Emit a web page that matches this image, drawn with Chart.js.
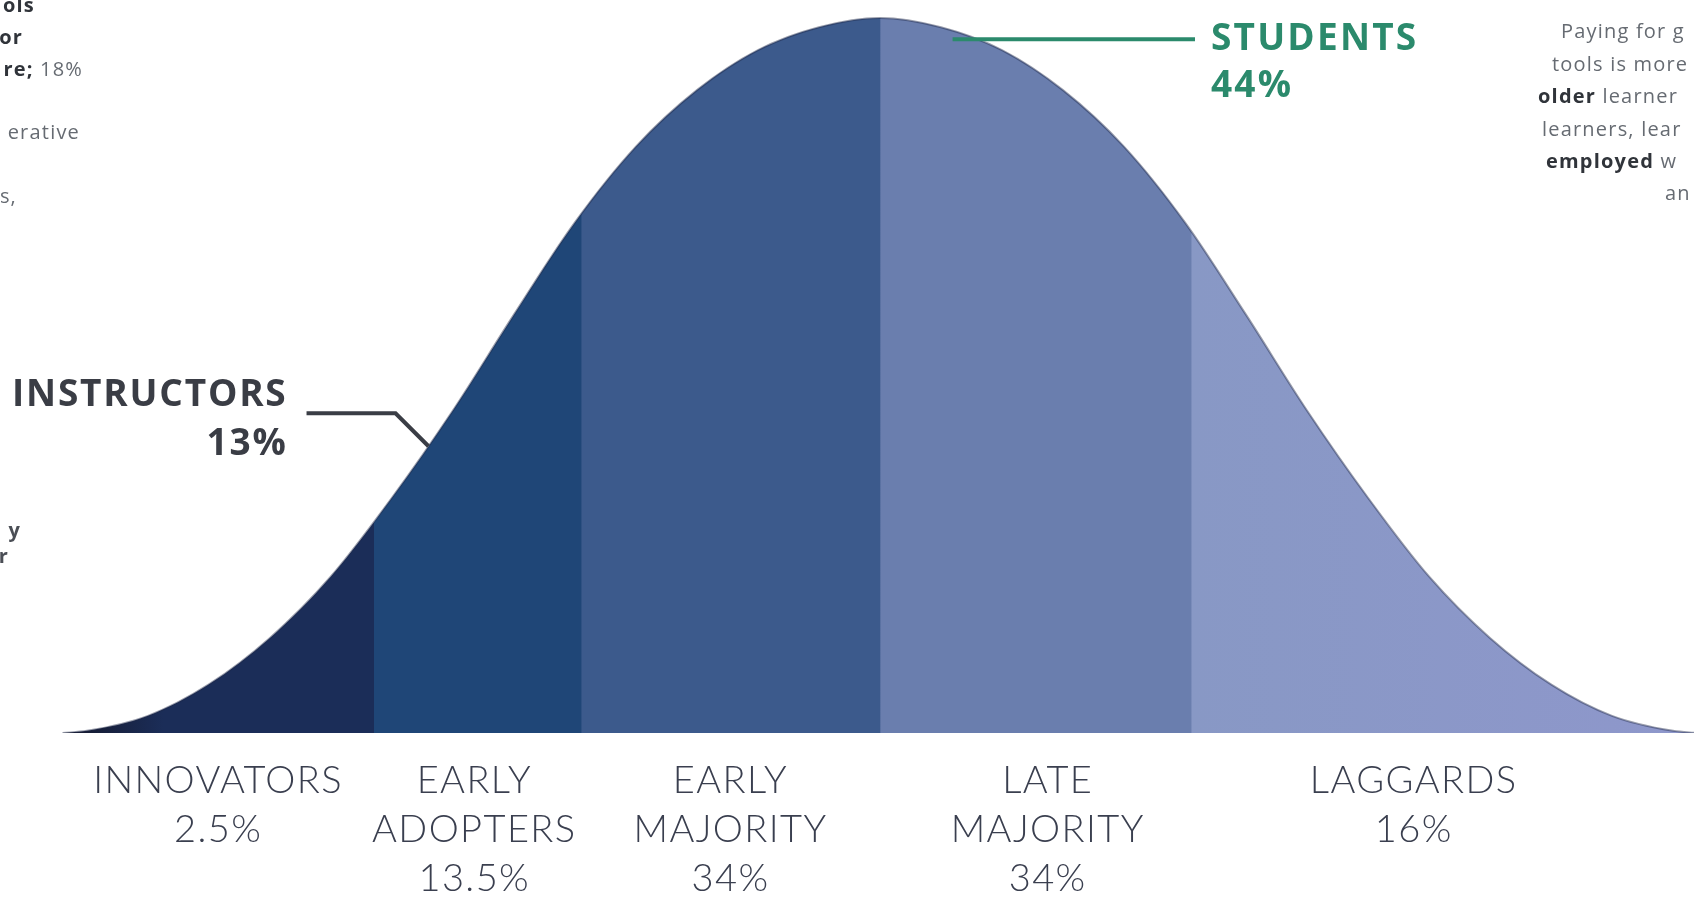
<!DOCTYPE html>
<html>
<head>
<meta charset="utf-8">
<script src="https://cdn.jsdelivr.net/npm/chart.js@4.4.1/dist/chart.umd.min.js"></script>
<style>
  html, body { margin: 0; padding: 0; background: #fff; }
  #wrap { width: 1694px; height: 903px; }
</style>
</head>
<body>
<div id="wrap"><canvas id="bell" width="1694" height="903"></canvas></div>
<script>
// adoption curve: x in standard deviations from the mean, y in % of the peak height
const curveX = [-2.68, -2.6, -2.4, -2.2, -2.0, -1.8, -1.6, -1.4, -1.2, -1.0, -0.8, -0.6, -0.4, -0.2,
                0, 0.2, 0.4, 0.6, 0.8, 1.0, 1.2, 1.4, 1.6, 1.8, 2.0, 2.2, 2.4, 2.6, 2.68];
const curveY = [0, 0.3, 2.4, 6.8, 13.3, 21.9, 32.9, 45.1, 58.5, 71.4, 82.0, 89.9, 95.5, 98.7,
                100, 98.7, 95.5, 89.9, 82.0, 71.4, 58.5, 45.1, 32.9, 21.9, 13.3, 6.8, 2.4, 0.3, 0];

const segments = [['INNOVATORS'], ['EARLY', 'ADOPTERS'], ['EARLY', 'MAJORITY'], ['LATE', 'MAJORITY'], ['LAGGARDS']];
const segmentShares = ['2.5%', '13.5%', '34%', '34%', '16%'];
const segmentEdges = [-1.66, -0.98, 0, 1.02];
const labelX = [-2.17, -1.33, -0.49, 0.55, 1.75];
const bandColors = ['#1b2d58', '#1f4677', '#3c5a8c', '#6a7eae', '#8898c5'];

const instructors = { label: 'INSTRUCTORS', share: '13%', x: -1.48, y: 40.1 };
const students = { label: 'STUDENTS', share: '44%', x: 0.33, y: 96.6 };

// cut-off side notes of the page
const leftNotes = [['ols', 'b'], ['or', 'b'], ['re;', 'b', ' 18%'], ['erative', 'r'], ['s,', 'r']];
const rightNotes = [['Paying for g'], ['tools is more'], ['older', ' learner'], ['learners, lear'], ['employed', ' w'], ['an']];

function bandFill(context) {
  const chart = context.chart;
  const area = chart.chartArea;
  if (!area) return bandColors[0];
  const xs = chart.scales.x;
  const w = area.right - area.left;
  const pos = v => Math.min(1, Math.max(0, (xs.getPixelForValue(v) - area.left) / w));
  const g = chart.ctx.createLinearGradient(area.left, 0, area.right, 0);
  g.addColorStop(0, '#14172a');
  g.addColorStop(pos(curveX[0]), '#14172a');
  g.addColorStop(pos(-2.35), bandColors[0]);
  segmentEdges.forEach((e, i) => {
    g.addColorStop(pos(e), bandColors[i]);
    g.addColorStop(pos(e) + 0.0005, bandColors[i + 1]);
  });
  g.addColorStop(1, '#8e97cb');
  return g;
}

const annotate = {
  id: 'annotate',
  afterDraw(chart) {
    const { ctx, chartArea, scales: { x, y } } = chart;
    ctx.save();
    ctx.textBaseline = 'middle';

    // segment names under the curve
    ctx.fillStyle = '#3a3f4f';
    ctx.font = '300 38px Lato';
    ctx.letterSpacing = '1.4px';
    ctx.textAlign = 'center';
    segments.forEach((lines, i) => {
      const px = x.getPixelForValue(labelX[i]);
      lines.concat(segmentShares[i]).forEach((t, k) => {
        ctx.fillText(t, px, chartArea.bottom + 48 + k * 49);
      });
    });

    // instructors callout
    let ax = x.getPixelForValue(instructors.x), ay = y.getPixelForValue(instructors.y);
    ctx.strokeStyle = '#3a3d45';
    ctx.lineWidth = 4;
    ctx.beginPath();
    ctx.moveTo(ax - 122, ay - 33);
    ctx.lineTo(ax - 33, ay - 33);
    ctx.lineTo(ax, ay);
    ctx.stroke();
    ctx.fillStyle = '#3a3d45';
    ctx.font = 'bold 37px "Open Sans"';
    ctx.letterSpacing = '1.8px';
    ctx.textAlign = 'right';
    ctx.fillText(instructors.label, ax - 141, ay - 51);
    ctx.fillText(instructors.share, ax - 141, ay - 2);

    // students callout
    ax = x.getPixelForValue(students.x); ay = y.getPixelForValue(students.y);
    ctx.strokeStyle = '#2b8a6c';
    ctx.beginPath();
    ctx.moveTo(ax - 28, ay - 3);
    ctx.lineTo(1195, ay - 3);
    ctx.stroke();
    ctx.fillStyle = '#2b8a6c';
    ctx.letterSpacing = '2.2px';
    ctx.textAlign = 'left';
    ctx.fillText(students.label, 1211, ay - 3);
    ctx.fillText(students.share, 1211, ay + 44);

    // side notes (cropped at the page edges)
    const bold = '700 20px "Open Sans"', reg = '20px "Open Sans"';
    ctx.letterSpacing = '1.2px';
    const leftEnds = [35, 23, 83, 80, 17];
    const leftY = [6, 38, 70, 133, 197];
    ctx.textAlign = 'right';
    leftNotes.forEach((n, i) => {
      let end = leftEnds[i];
      if (n[2]) {
        ctx.font = reg; ctx.fillStyle = '#666b72';
        ctx.fillText(n[2], end, leftY[i]);
        end -= ctx.measureText(n[2]).width;
      }
      ctx.font = n[1] === 'b' ? bold : reg;
      ctx.fillStyle = n[1] === 'b' ? '#30343a' : '#666b72';
      ctx.fillText(n[0], end, leftY[i]);
    });
    ctx.font = bold; ctx.fillStyle = '#4a4e55';
    ctx.fillText('y', 21, 531);
    ctx.fillText('r', 9, 557);

    const rightStart = [1561, 1552, 1538, 1542, 1546, 1665];
    const rightY = [32, 65, 97, 130, 162, 194];
    ctx.textAlign = 'left';
    rightNotes.forEach((n, i) => {
      let sx = rightStart[i];
      if (n.length === 2) {
        ctx.font = bold; ctx.fillStyle = '#30343a';
        ctx.fillText(n[0], sx, rightY[i]);
        sx += ctx.measureText(n[0]).width;
        ctx.font = reg; ctx.fillStyle = '#666b72';
        ctx.fillText(n[1], sx, rightY[i]);
      } else {
        ctx.font = reg; ctx.fillStyle = '#666b72';
        ctx.fillText(n[0], sx, rightY[i]);
      }
    });
    ctx.restore();
  }
};

new Chart(document.getElementById('bell'), {
  type: 'line',
  data: {
    datasets: [{
      data: curveX.map((v, i) => ({ x: v, y: curveY[i] })),
      fill: 'origin',
      backgroundColor: bandFill,
      borderColor: 'rgba(30,40,70,0.45)',
      borderWidth: 2,
      pointRadius: 0,
      cubicInterpolationMode: 'monotone'
    }]
  },
  options: {
    responsive: false,
    animation: false,
    layout: { padding: { left: 0, right: 0, top: 0, bottom: 170 } },
    scales: {
      x: { type: 'linear', min: -2.885, max: 2.669, display: false },
      y: { min: 0, max: 102.5, display: false }
    },
    plugins: { legend: { display: false }, tooltip: { enabled: false } }
  },
  plugins: [annotate]
});
</script>
</body>
</html>
